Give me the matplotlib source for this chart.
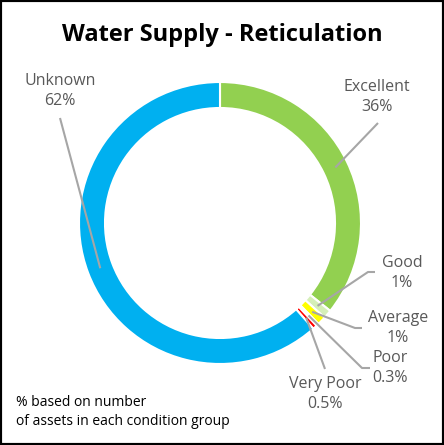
import numpy as np
import matplotlib
matplotlib.use("Agg")
import matplotlib.pyplot as plt
from matplotlib.patches import Rectangle

# ---- data ----
categories = ["Excellent", "Good", "Average", "Poor", "Very Poor", "Unknown"]
values = [36, 1, 1, 0.3, 0.5, 62]
pct_labels = ["36%", "1%", "1%", "0.3%", "0.5%", "62%"]
colors = ["#92D050", "#D5EFB8", "#FFFF00", "#FFFF99", "#FF0000", "#00B0F0"]

title = "Water Supply - Reticulation"
note = "% based on number\nof assets in each condition group"

# ---- layout (pixel space, y measured from top) ----
W, H = 444, 445
cx, cy = 220, 223
R = 141
ring_w = 26

# label centres and leader-line anchors (pixels from top-left)
label_pos = {
    "Excellent": (377, 97),
    "Good": (402, 273),
    "Average": (398, 328),
    "Poor": (390, 368),
    "Very Poor": (325, 394),
    "Unknown": (60, 91),
}
leader_pts = {
    "Excellent": [(378, 123)],
    "Good": [(375, 272), (368, 272)],
    "Average": [(362, 328), (355, 328)],
    "Poor": [(370, 368), (362, 368)],
    "Very Poor": [(325, 369)],
    "Unknown": [(60, 118)],
}

plt.rcParams['font.family'] = ['Open Sans', 'DejaVu Sans']

fig = plt.figure(figsize=(W / 100, H / 100), dpi=100)
ax = fig.add_axes([0, 0, 1, 1])
ax.set_xlim(0, W)
ax.set_ylim(0, H)
ax.set_aspect('equal')
ax.axis('off')

def py(y):
    return H - y

wedges, _ = ax.pie(values, colors=colors, startangle=90, counterclock=False,
                   radius=R, center=(cx, py(cy)),
                   wedgeprops=dict(width=ring_w, edgecolor='white', linewidth=1.5))
ax.set_xlim(0, W)
ax.set_ylim(0, H)

lead_color = "#A6A6A6"
rmid = R - ring_w / 2
for w, cat, pl in zip(wedges, categories, pct_labels):
    ang = np.deg2rad((w.theta1 + w.theta2) / 2)
    tx = cx + rmid * np.cos(ang)
    ty = py(cy) + rmid * np.sin(ang)
    pts = leader_pts[cat]
    xs = [p[0] for p in pts] + [tx]
    ys = [py(p[1]) for p in pts] + [ty]
    ax.plot(xs, ys, color=lead_color, lw=1.5, solid_capstyle='butt', zorder=3)
    lx, ly = label_pos[cat]
    ax.text(lx, py(ly), f"{cat}\n{pl}", ha='center', va='center',
            fontsize=11.5, color="#595959", linespacing=1.3)

ax.text(W / 2, py(35), title, ha='center', va='center', fontsize=17,
        fontweight='bold', color='black')
ax.text(16, py(412), note, ha='left', va='center', fontsize=10,
        color='black', linespacing=1.4)

fig.patches.append(Rectangle((0, 0), 1, 1, transform=fig.transFigure,
                             fill=False, edgecolor='black', linewidth=3))

fig.savefig("out.png", dpi=100)
